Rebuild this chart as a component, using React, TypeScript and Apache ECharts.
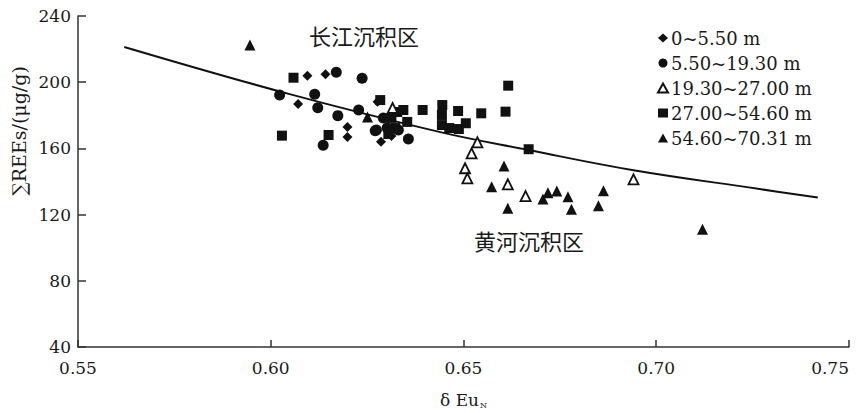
import React, { useEffect, useRef } from "react";
import * as echarts from "echarts";

const legendNames = ["0~5.50 m", "5.50~19.30 m", "19.30~27.00 m", "27.00~54.60 m", "54.60~70.31 m"];

const diamondPts: number[][] = [
  [0.6095, 203.9], [0.6142, 204.8], [0.6071, 186.8], [0.6199, 172.9], [0.6199, 166.9],
  [0.6286, 164.0], [0.6277, 188.2], [0.6313, 167.5],
];
const circlePts: number[][] = [
  [0.6023, 192.3], [0.6114, 192.7], [0.6122, 184.6], [0.6174, 179.8], [0.617, 206.0],
  [0.6237, 202.4], [0.6228, 183.2], [0.6136, 161.9], [0.6271, 170.7], [0.6357, 165.7],
  [0.6274, 171.1], [0.6302, 172.3], [0.6331, 171.1], [0.6292, 178.4],
];
const openTriPts: number[][] = [
  [0.6536, 163.7], [0.6521, 157.0], [0.6504, 148.0], [0.651, 141.9], [0.6615, 138.3],
  [0.6661, 131.2], [0.6941, 141.3], [0.6316, 184.4],
];
const squarePts: number[][] = [
  [0.6059, 202.7], [0.6029, 167.7], [0.615, 168.1], [0.6284, 189.2], [0.6313, 178.4],
  [0.6323, 172.3], [0.6344, 183.2], [0.6305, 168.7], [0.6354, 176.0], [0.6328, 182.0],
  [0.6394, 183.2], [0.6445, 186.2], [0.6444, 180.2], [0.6444, 174.1], [0.6463, 172.3],
  [0.6488, 171.7], [0.6486, 182.6], [0.6506, 175.2], [0.6546, 181.2], [0.6609, 182.2],
  [0.6616, 197.9], [0.6669, 159.5],
];
const filledTriPts: number[][] = [
  [0.5946, 222.5], [0.6605, 149.4], [0.6573, 136.9], [0.6615, 123.8], [0.6706, 129.4],
  [0.6719, 133.2], [0.6742, 134.3], [0.6771, 130.8], [0.678, 123.2], [0.685, 125.4],
  [0.6863, 134.4], [0.712, 111.1], [0.6251, 179.0],
];
const trendPts: number[][] = [
  [0.562, 221.3], [0.6049, 192.8], [0.6437, 170.0], [0.6669, 159.0], [0.6941, 146.8],
  [0.7264, 135.6], [0.7419, 130.3],
];

const SERIF = "DejaVu Serif";
const CJK = "Noto Sans CJK SC";
const INK = "#1a1a1a";

export default function App() {
  const ref = useRef<HTMLDivElement>(null);
  useEffect(() => {
    if (!ref.current) return;
    const chart = echarts.init(ref.current, undefined, { renderer: "svg" });
    const scatterBase = { type: "scatter" as const, z: 3 };
    chart.setOption({
      animation: false,
      backgroundColor: "#fff",
      grid: { left: 78, right: 12, top: 16, bottom: 66, outerBoundsMode: "none", containLabel: false },
      xAxis: {
        type: "value",
        min: 0.55,
        max: 0.75,
        interval: 0.05,
        name: "δ Eu{sub|N}",
        nameLocation: "middle",
        nameGap: 44,
        nameTextStyle: {
          fontFamily: SERIF,
          fontSize: 17,
          color: INK,
          rich: { sub: { fontSize: 8, fontFamily: SERIF, color: INK, padding: [10, 0, 0, 1] } },
        },
        axisLine: { lineStyle: { color: "#333", width: 1.5 } },
        axisTick: { inside: true, length: 7, lineStyle: { color: "#333", width: 1.5 } },
        axisLabel: {
          fontFamily: SERIF,
          fontSize: 17,
          color: INK,
          margin: 12,
          alignMaxLabel: "right",
          formatter: (v: number) => v.toFixed(2),
        },
        splitLine: { show: false },
      },
      yAxis: {
        type: "value",
        min: 40,
        max: 240,
        interval: 40,
        axisLine: { show: true, lineStyle: { color: "#333", width: 1.5 } },
        axisTick: { show: true, inside: true, length: 8, lineStyle: { color: "#333", width: 1.5 } },
        axisLabel: { fontFamily: SERIF, fontSize: 17, color: INK, margin: 7 },
        splitLine: { show: false },
      },
      legend: {
        orient: "vertical",
        left: 652,
        top: 24,
        itemGap: 7,
        itemWidth: 10,
        itemHeight: 9,
        data: legendNames,
        textStyle: { fontFamily: SERIF, fontSize: 18, color: INK, padding: [0, 0, 0, -2] },
      },
      graphic: [
        {
          type: "text",
          x: 19,
          y: 131,
          rotation: Math.PI / 2,
          style: {
            text: "∑REEs/(μg/g)",
            font: `19px "${SERIF}"`,
            fill: INK,
            textAlign: "center",
            textVerticalAlign: "middle",
          },
        },
        {
          type: "text",
          left: 309,
          top: 24,
          style: { text: "长江沉积区", font: `22px "${CJK}"`, fill: INK },
        },
        {
          type: "text",
          left: 474,
          top: 229,
          style: { text: "黄河沉积区", font: `22px "${CJK}"`, fill: INK },
        },
      ],
      series: [
        {
          type: "line",
          data: trendPts,
          smooth: 0.4,
          showSymbol: false,
          symbol: "none",
          lineStyle: { color: "#111", width: 2 },
          z: 2,
          silent: true,
        },
        {
          ...scatterBase,
          name: legendNames[0],
          symbol: "diamond",
          symbolSize: 10,
          itemStyle: { color: "#111", opacity: 1 },
          data: diamondPts,
        },
        {
          ...scatterBase,
          name: legendNames[1],
          symbol: "circle",
          symbolSize: 11,
          itemStyle: { color: "#111", opacity: 1 },
          data: circlePts,
        },
        {
          ...scatterBase,
          name: legendNames[2],
          symbol: "triangle",
          symbolSize: 10,
          itemStyle: { color: "#fff", borderColor: "#111", borderWidth: 1.8, opacity: 1 },
          data: openTriPts,
          z: 4,
        },
        {
          ...scatterBase,
          name: legendNames[3],
          symbol: "rect",
          symbolSize: 10,
          itemStyle: { color: "#111", opacity: 1 },
          data: squarePts,
        },
        {
          ...scatterBase,
          name: legendNames[4],
          symbol: "triangle",
          symbolSize: 11,
          itemStyle: { color: "#111", opacity: 1 },
          data: filledTriPts,
        },
      ],
    });
    return () => chart.dispose();
  }, []);
  return <div ref={ref} style={{ width: 861, height: 413, marginLeft: -8, marginTop: -8 }} />;
}
